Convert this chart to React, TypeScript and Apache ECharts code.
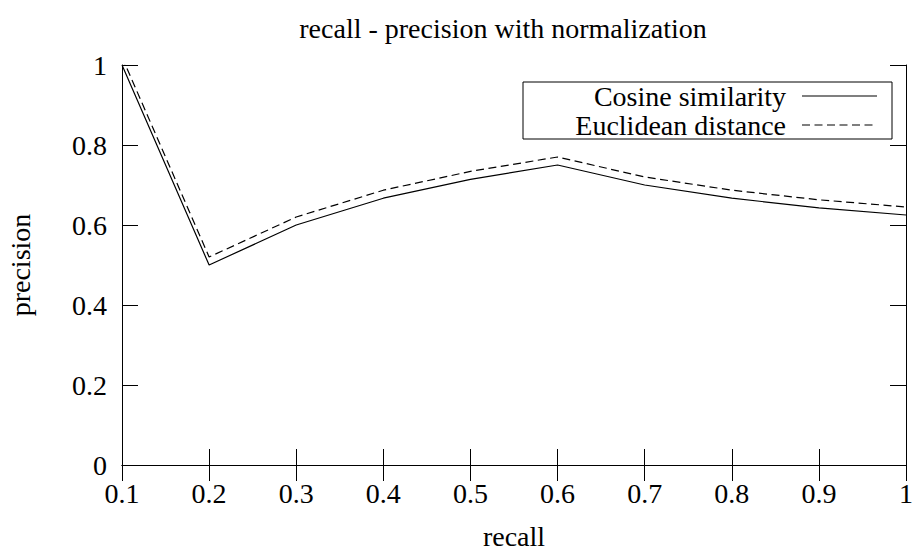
import React, { useEffect, useRef } from "react";
import * as echarts from "echarts";

const recall = [0.1, 0.2, 0.3, 0.4, 0.5, 0.6, 0.7, 0.8, 0.9, 1.0];
const cosine = [1.0, 0.5, 0.6, 0.667, 0.714, 0.75, 0.7, 0.667, 0.643, 0.625];
const euclidean = [1.02, 0.52, 0.62, 0.687, 0.734, 0.77, 0.72, 0.687, 0.663, 0.645];
const seriesNames = ["Cosine similarity", "Euclidean distance"];
const titleText = "recall - precision with normalization";
const xName = "recall";
const yName = "precision";

const FONT = "'Liberation Serif', 'Times New Roman', serif";
const FS = 28;

const fmt = (v: number) => {
  const s = (Math.round(v * 10) / 10).toFixed(1);
  if (s === "1.0") return "1";
  if (s === "0.0") return "0";
  return s;
};

export default function App() {
  const ref = useRef<HTMLDivElement>(null);
  useEffect(() => {
    if (!ref.current) return;
    const chart = echarts.init(ref.current, undefined, { renderer: "svg" });
    const axisLine = { show: true, lineStyle: { color: "#000", width: 1 } };
    const tick = { show: true, inside: true, length: 16, lineStyle: { color: "#000", width: 1 } };
    const labelStyle = { color: "#000", fontFamily: FONT, fontSize: FS };
    chart.setOption({
      animation: false,
      backgroundColor: "#fff",
      title: {
        text: titleText,
        left: 498,
        textAlign: "center",
        top: 9,
        textStyle: { color: "#000", fontFamily: FONT, fontSize: FS, fontWeight: "normal" },
      },
      grid: { left: 122, right: 7, top: 65, bottom: 85, containLabel: false, outerBoundsMode: "none" },
      xAxis: [
        {
          type: "value",
          min: 0.1,
          max: 1,
          interval: 0.1,
          position: "bottom",
          axisLine,
          axisTick: tick,
          splitLine: { show: false },
          axisLabel: { ...labelStyle, margin: 14, formatter: fmt },
          name: xName,
          nameLocation: "middle",
          nameGap: 60,
          nameTextStyle: { ...labelStyle, lineHeight: 22 },
        },
        {
          type: "value",
          min: 0.1,
          max: 1,
          interval: 0.1,
          position: "top",
          axisLine,
          axisTick: tick,
          splitLine: { show: false },
          axisLabel: { show: false },
        },
      ],
      yAxis: [
        {
          type: "value",
          min: 0,
          max: 1,
          interval: 0.2,
          position: "left",
          axisLine,
          axisTick: tick,
          splitLine: { show: false },
          axisLabel: { ...labelStyle, margin: 15, formatter: fmt },
          name: yName,
          nameLocation: "middle",
          nameGap: 88,
          nameRotate: 90,
          nameTextStyle: labelStyle,
        },
        {
          type: "value",
          min: 0,
          max: 1,
          interval: 0.2,
          position: "right",
          axisLine,
          axisTick: tick,
          splitLine: { show: false },
          axisLabel: { show: false },
        },
      ],
      series: [
        {
          name: seriesNames[0],
          type: "line",
          data: recall.map((r, i) => [r, cosine[i]]),
          showSymbol: false,
          symbol: "none",
          clip: true,
          lineStyle: { color: "#000", width: 1.2, type: "solid" },
        },
        {
          name: seriesNames[1],
          type: "line",
          data: recall.map((r, i) => [r, euclidean[i]]),
          showSymbol: false,
          symbol: "none",
          clip: true,
          lineStyle: { color: "#000", width: 1.2, type: [8, 4.5] },
        },
      ],
      graphic: [
        {
          type: "rect",
          shape: { x: 523, y: 82, width: 369, height: 57 },
          style: { fill: "#fff", stroke: "#000", lineWidth: 1 },
          z: 10,
        },
        {
          type: "text",
          x: 786,
          y: 96,
          style: { text: seriesNames[0], fill: "#000", font: `${FS}px ${FONT}`, align: "right", verticalAlign: "middle" },
          z: 11,
        },
        {
          type: "text",
          x: 786,
          y: 125,
          style: { text: seriesNames[1], fill: "#000", font: `${FS}px ${FONT}`, align: "right", verticalAlign: "middle" },
          z: 11,
        },
        {
          type: "line",
          shape: { x1: 802, y1: 96, x2: 877, y2: 96 },
          style: { stroke: "#000", lineWidth: 1.2 },
          z: 11,
        },
        {
          type: "line",
          shape: { x1: 802, y1: 125, x2: 877, y2: 125 },
          style: { stroke: "#000", lineWidth: 1.2, lineDash: [8, 4.5] },
          z: 11,
        },
      ],
    });
    return () => chart.dispose();
  }, []);
  return <div ref={ref} style={{ width: 913, height: 550, position: "absolute", left: 0, top: 0 }} />;
}
